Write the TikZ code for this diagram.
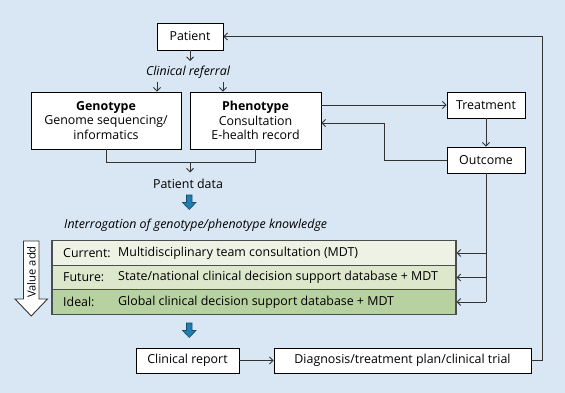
\documentclass[tikz,border=0pt]{standalone}
\usepackage{fontspec}
\setmainfont{Open Sans}
\usetikzlibrary{arrows.meta}
\definecolor{bg}{HTML}{D8E7F3}
\definecolor{rowa}{HTML}{EEF2E4}
\definecolor{rowb}{HTML}{DCE7CC}
\definecolor{rowc}{HTML}{B7D2A0}
\definecolor{tblline}{HTML}{4A4F52}
\definecolor{fatblue}{HTML}{1F7FB5}
\definecolor{fatedge}{HTML}{1B4A66}
\definecolor{lineg}{HTML}{333333}
\newcommand{\fsz}{\fontsize{12.4}{14.2}\selectfont}
\tikzset{
  box/.style={draw=black, line width=0.9pt, fill=white, align=center, inner sep=0pt, font=\fsz},
  rowbox/.style={draw=tblline, line width=1.1pt, minimum width=404pt, minimum height=24.5pt, inner sep=0pt},
  lbl/.style={anchor=west, inner sep=0pt, font=\fsz},
  txt/.style={inner sep=0pt, font=\fsz},
  itx/.style={inner sep=0pt, font=\fsz\itshape},
  arr/.style={draw=lineg, line width=0.9pt, -{Straight Barb[length=3.5pt,width=7pt]}},
  conn/.style={draw=lineg, line width=0.9pt},
  fatarrow/.style={fill=fatblue, draw=fatedge, line width=0.6pt}
}
\begin{document}
\begin{tikzpicture}[x=1pt,y=-1pt]
\fill[bg] (0,0) rectangle (565,393);
\useasboundingbox (0,0) rectangle (565,393);

% nodes
\node[box, minimum width=66pt, minimum height=27pt] (patient) at (190,36.5) {Patient};
\node[itx] (cr) at (188,72) {Clinical referral};
\node[box, minimum width=150pt, minimum height=57pt] (geno) at (106,120.5) {\textbf{Genotype}\\Genome sequencing/\\informatics};
\node[box, minimum width=131pt, minimum height=57pt] (pheno) at (255.5,120.5) {\textbf{Phenotype}\\Consultation\\E-health record};
\node[box, minimum width=78pt, minimum height=26pt] (treat) at (486,105) {Treatment};
\node[box, minimum width=78pt, minimum height=26pt] (out) at (486,160) {Outcome};
\node[txt] (pd) at (188,184) {Patient data};
\node[itx, anchor=west] (interr) at (64,225.5) {Interrogation of genotype/phenotype knowledge};

\node[rowbox, fill=rowa] (row1) at (254,253) {};
\node[rowbox, fill=rowb] (row2) at (254,277.5) {};
\node[rowbox, fill=rowc] (row3) at (254,302) {};
\node[lbl] (l1) at (63,253) {Current:};
\node[lbl] (t1) at (118,253) {Multidisciplinary team consultation (MDT)};
\node[lbl] (l2) at (63,277.5) {Future:};
\node[lbl] (t2) at (118,277.5) {State/national clinical decision support database + MDT};
\node[lbl] (l3) at (63,302) {Ideal:};
\node[lbl] (t3) at (118,302) {Global clinical decision support database + MDT};

\node[box, minimum width=103pt, minimum height=25pt] (report) at (187.5,360.5) {Clinical report};
\node[box, minimum width=257pt, minimum height=25pt] (diag) at (402.5,360.5) {Diagnosis/treatment plan/clinical trial};

% value add arrow
\draw[draw=lineg, fill=white, line width=0.9pt] (23.5,241) -- (39,241) -- (39,299) -- (47.5,299) -- (31.25,316) -- (15,299) -- (23.5,299) -- cycle;
\node[inner sep=0pt, font=\fontsize{11.2}{13}\selectfont, rotate=90] (va) at (31.5,272) {Value add};

% fat blue arrows
\draw[fatarrow] (186.5,195) -- (192,195) -- (192,202.5) -- (196,202.5) -- (189.25,209.5) -- (182.5,202.5) -- (186.5,202.5) -- cycle;
\draw[fatarrow] (186.5,323) -- (192,323) -- (192,330.5) -- (196,330.5) -- (189.25,337.5) -- (182.5,330.5) -- (186.5,330.5) -- cycle;

% connectors
\coordinate (pa) at (190,61);
\draw[arr] (patient.south) -- (pa);
\coordinate (ga) at (157,82);
\coordinate (pb) at (223,82);
\draw[arr] (ga) -- (geno.north -| ga);
\draw[arr] (pb) -- (pheno.north -| pb);
\draw[conn] (geno.south) -- ++(0,13) -| (pheno.south);
\coordinate (mj) at (190,162);
\draw[arr] (mj) -- ++(0,10.5);
\draw[arr] (treat.west -| pheno.east) -- (treat.west);
\draw[arr] (treat.south) -- (out.north);
\coordinate (ob) at (384,123);
\draw[arr] (out.west) -| (ob) -- (ob -| pheno.east);
\draw[conn] (out.south) -- (out.south |- row3.east);
\draw[arr] (out.south |- row1.east) -- (row1.east);
\draw[arr] (out.south |- row2.east) -- (row2.east);
\draw[arr] (out.south |- row3.east) -- (row3.east);
\draw[arr] (report.east) -- (diag.west);
\coordinate (rr) at (542,0);
\draw[arr] (diag.east) -| (rr |- patient.east) -- (patient.east);
\end{tikzpicture}
\end{document}
